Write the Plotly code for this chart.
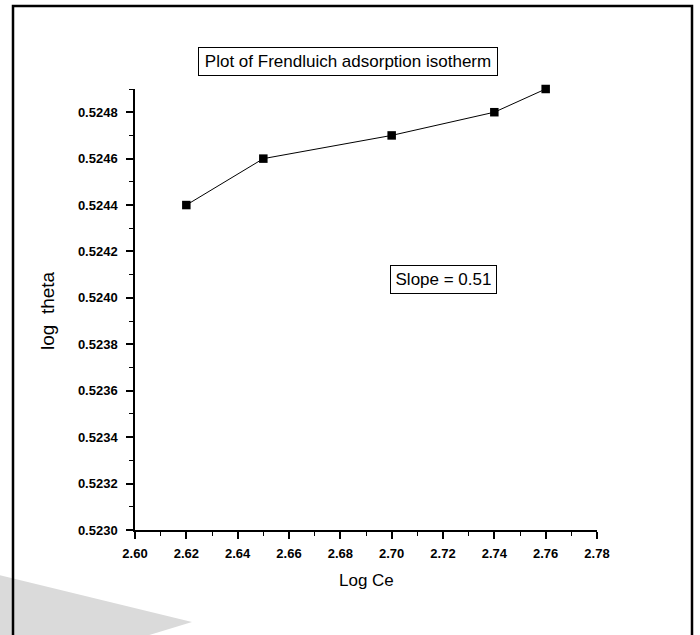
import plotly.graph_objects as go

log_ce = [2.62, 2.65, 2.70, 2.74, 2.76]
log_theta = [0.5244, 0.5246, 0.5247, 0.5248, 0.5249]

title_text = "Plot of Frendluich adsorption isotherm"
slope_text = "Slope = 0.51"
x_title = "Log Ce"
y_title = "log\u00a0\u00a0theta"

W, H = 700, 635
L, R, T, B = 135, 103, 89, 105
pw, ph = W - L - R, H - T - B

def px_x(p):
    return (p - L) / pw

def px_y(p):
    return (H - B - p) / ph

fig = go.Figure()
fig.add_trace(go.Scatter(
    x=log_ce, y=log_theta, mode="lines+markers",
    line=dict(color="black", width=1),
    marker=dict(symbol="square", size=8.5, color="black"),
    cliponaxis=False,
    showlegend=False,
))

tickfont = dict(family="Liberation Sans, Arial", size=13, color="black", weight="bold")

fig.update_xaxes(
    range=[2.60, 2.78], tick0=2.60, dtick=0.02, tickformat=".2f",
    showline=True, linecolor="black", linewidth=1.5, showgrid=False, zeroline=False,
    ticks="outside", ticklen=7, tickwidth=1.5, tickcolor="black",
    minor=dict(ticks="outside", ticklen=4, tickwidth=1.2, tickcolor="black", dtick=0.01, showgrid=False),
    tickfont=tickfont, ticklabelstandoff=4,
)
fig.update_yaxes(
    range=[0.5230, 0.5249], tick0=0.5230, dtick=0.0002, tickformat=".4f",
    showline=True, linecolor="black", linewidth=1.5, showgrid=False, zeroline=False,
    ticks="outside", ticklen=7, tickwidth=1.5, tickcolor="black",
    minor=dict(ticks="outside", ticklen=4, tickwidth=1.2, tickcolor="black", dtick=0.0001, showgrid=False),
    tickfont=tickfont, ticklabelstandoff=6,
)

shapes = [
    # grey wedge bottom-left
    dict(type="path", xref="paper", yref="paper", layer="below",
         path=f"M {px_x(-5)} {px_y(574)} L {px_x(192)} {px_y(622)} L {px_x(133)} {px_y(640)} L {px_x(-5)} {px_y(640)} Z",
         fillcolor="#dadada", line=dict(width=0)),
    # outer frame
    dict(type="rect", xref="paper", yref="paper", layer="above",
         x0=px_x(13), x1=px_x(692), y0=px_y(645), y1=px_y(6),
         line=dict(color="black", width=2.5), fillcolor="rgba(0,0,0,0)"),
]

annotations = [
    dict(text=title_text, xref="paper", yref="paper", x=px_x(348), y=px_y(62),
         showarrow=False, font=dict(family="Liberation Sans, Arial", size=17, color="black"),
         bordercolor="black", borderwidth=1, borderpad=2, bgcolor="white",
         width=294, height=23, align="center",
         xanchor="center", yanchor="middle"),
    dict(text=slope_text, xref="paper", yref="paper", x=px_x(443), y=px_y(279),
         showarrow=False, font=dict(family="Liberation Sans, Arial", size=17, color="black"),
         bordercolor="black", borderwidth=1, borderpad=2, bgcolor="white",
         width=101, height=23, align="center",
         xanchor="center", yanchor="middle"),
    dict(text=x_title, xref="paper", yref="paper", x=px_x(366), y=px_y(580),
         showarrow=False, font=dict(family="Liberation Sans, Arial", size=17, color="black"),
         xanchor="center", yanchor="middle"),
    dict(text=y_title, xref="paper", yref="paper", x=px_x(47), y=px_y(311),
         showarrow=False, textangle=-90, font=dict(family="Liberation Sans, Arial", size=19, color="black"),
         xanchor="center", yanchor="middle"),
]

fig.update_layout(
    width=W, height=H, autosize=False,
    margin=dict(l=L, r=R, t=T, b=B, pad=0),
    plot_bgcolor="white", paper_bgcolor="white",
    shapes=shapes, annotations=annotations,
)

fig.write_html("out.html", config={"displayModeBar": False})
